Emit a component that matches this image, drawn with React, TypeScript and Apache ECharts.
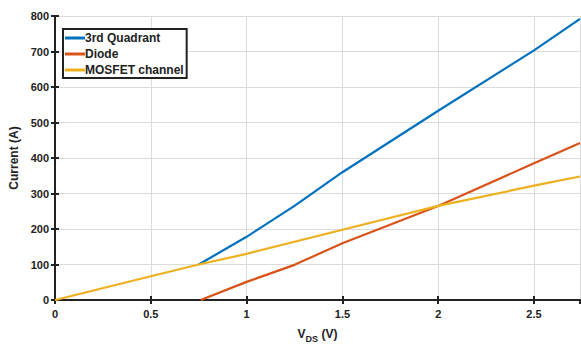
import React, { useEffect, useRef } from "react";
import * as echarts from "echarts";

const seriesNames = ["3rd Quadrant", "Diode", "MOSFET channel"];
const quadX = [0.75, 1, 1.25, 1.5, 2, 2.5, 2.74];
const quadY = [100, 178, 265, 360, 533, 703, 792];
const diodeX = [0.76, 1, 1.25, 1.5, 2, 2.5, 2.74];
const diodeY = [0, 51, 99, 160, 265, 385, 442];
const mosX = [0, 0.5, 0.75, 1, 1.5, 2, 2.5, 2.74];
const mosY = [0, 67, 100, 130, 198, 265, 322, 348];
const yTicks = [0, 100, 200, 300, 400, 500, 600, 700, 800];
const colors = ["#0072BD", "#D95319", "#EDB120"];

const zip = (xs: number[], ys: number[]) => xs.map((x, i) => [x, ys[i]]);

export default function App() {
  const ref = useRef<HTMLDivElement>(null);
  useEffect(() => {
    document.body.style.margin = "0";
    const chart = echarts.init(ref.current!, undefined, { renderer: "svg" });
    const font = "'Liberation Sans', Arial, sans-serif";
    const axisLine = { show: true, lineStyle: { color: "#222", width: 2 } };
    const tick = { show: true, inside: true, length: 4, lineStyle: { color: "#222", width: 2 } };
    chart.setOption({
      animation: false,
      color: colors,
      textStyle: { fontFamily: font },
      grid: { left: 55, top: 16, right: 1, bottom: 45, outerBoundsMode: "none" },
      legend: {
        orient: "vertical",
        left: 63,
        top: 29,
        data: seriesNames,
        itemWidth: 20,
        itemHeight: 3,
        itemGap: 4,
        padding: [3, 3, 2, 2],
        borderColor: "#222",
        borderWidth: 2,
        backgroundColor: "#fff",
        icon: "rect",
        textStyle: { fontFamily: font, fontWeight: "bold", fontSize: 12, color: "#222", padding: [0, 0, 0, -5] },
      },
      xAxis: [
        {
          type: "value",
          min: 0,
          max: 2.74,
          interval: 0.5,
          axisLine,
          axisTick: tick,
          splitLine: { show: true, lineStyle: { color: "#dcdcdc", width: 1 } },
          axisLabel: {
            fontFamily: font,
            fontWeight: "bold",
            fontSize: 11,
            color: "#222",
            margin: 8,
            showMaxLabel: false,
          },
          name: "{a|V}{b|DS}{a| (V)}",
          nameLocation: "middle",
          nameGap: 24,
          nameTextStyle: {
            rich: {
              a: { fontFamily: font, fontWeight: "bold", fontSize: 12, color: "#222" },
              b: { fontFamily: font, fontWeight: "bold", fontSize: 9, color: "#222", verticalAlign: "bottom", padding: [10, 0, 0, 0] },
            },
          },
        },
        {
          type: "value",
          position: "top",
          min: 0,
          max: 2.74,
          interval: 0.5,
          axisLine,
          axisTick: tick,
          axisLabel: { show: false },
          splitLine: { show: false },
        },
      ],
      yAxis: [
        {
          type: "value",
          min: 0,
          max: 800,
          interval: 100,
          axisLine,
          axisTick: tick,
          splitLine: { show: true, lineStyle: { color: "#dcdcdc", width: 1 } },
          axisLabel: {
            fontFamily: font,
            fontWeight: "bold",
            fontSize: 11,
            color: "#222",
            margin: 6,
            formatter: (v: number) => (yTicks.includes(v) ? String(v) : ""),
          },
          name: "Current (A)",
          nameLocation: "middle",
          nameGap: 33,
          nameTextStyle: { fontFamily: font, fontWeight: "bold", fontSize: 12, color: "#222" },
        },
        {
          type: "value",
          position: "right",
          min: 0,
          max: 800,
          interval: 100,
          axisLine: { show: false },
          axisTick: tick,
          axisLabel: { show: false },
          splitLine: { show: false },
        },
      ],
      series: [
        { name: seriesNames[0], type: "line", data: zip(quadX, quadY), showSymbol: false, lineStyle: { width: 2.2 } },
        { name: seriesNames[1], type: "line", data: zip(diodeX, diodeY), showSymbol: false, lineStyle: { width: 2.2 } },
        { name: seriesNames[2], type: "line", data: zip(mosX, mosY), showSymbol: false, lineStyle: { width: 2.2 } },
      ],
    });
    return () => chart.dispose();
  }, []);
  return <div ref={ref} style={{ width: 581, height: 345 }} />;
}
